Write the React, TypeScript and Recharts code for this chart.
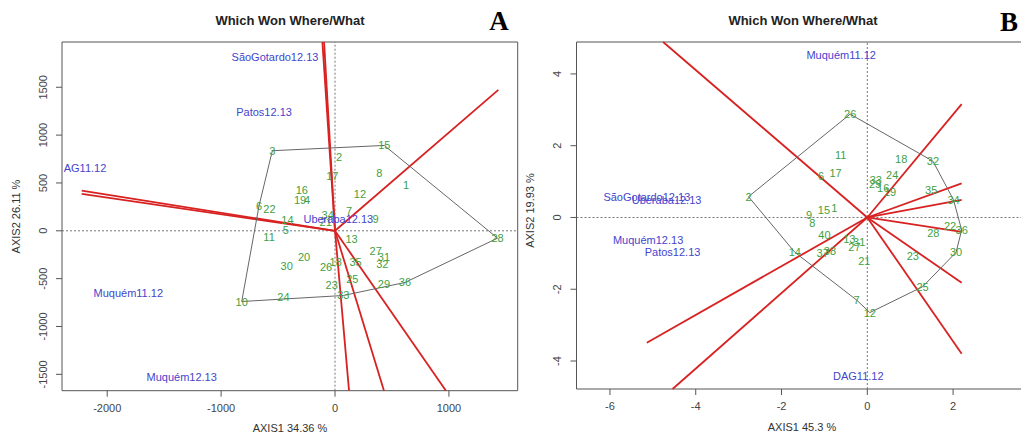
import {
  ScatterChart,
  Scatter,
  XAxis,
  YAxis,
  ReferenceLine,
  ReferenceArea,
} from "recharts";

const FONT = '"Liberation Sans", Arial, sans-serif';
const GREEN = "#3f9f3f";
const BLUE = "#4444cc";
const RED = "#d82222";
const GREY = "#666";

// ---- panel A : genotypes (green numbers)
const GENO_A = ["3", "15", "2", "8", "17", "1", "16", "19", "4", "12", "6", "22", "7", "34", "21", "9", "14", "5", "11", "13", "27", "31", "32", "20", "30", "26", "18", "35", "25", "23", "29", "36", "33", "24", "10", "28"];
const GENO_A_X = [-550, 433, 35, 389, -23, 623, -292, -307, -246, 219, -667, -576, 123, -64, -82, 357, -418, -433, -579, 146, 357, 430, 415, -272, -424, -79, 6, 181, 152, -29, 430, 614, 73, -453, -819, 1427];
const GENO_A_Y = [837, 892, 767, 600, 568, 474, 422, 317, 317, 384, 262, 233, 202, 167, 87, 122, 108, 10, -60, -84, -206, -275, -345, -279, -366, -377, -328, -328, -502, -565, -554, -540, -676, -687, -739, -77];
const HULL_A = ["3", "15", "28", "36", "33", "10", "6", "3"];

// ---- panel A : environments (blue)
const ENV_A = ["SãoGotardo12.13", "Patos12.13", "AG11.12", "Uberaba12.13", "Muquém11.12", "Muquém12.13"];
const ENV_A_X = [-527, -623, -2195, 29, -1815, -1346];
const ENV_A_Y = [1820, 1242, 653, 123, -647, -1531];

// ---- panel A : sector rays (end points, start at origin)
const RAY_A_X = [-111, -96, 1434, -2224, -2224, 123, 430, 974];
const RAY_A_Y = [1973, 1973, 1472, 419, 385, -1671, -1671, -1671];

const X_TICKS_A = [-2000, -1000, 0, 1000];
const Y_TICKS_A = [-1500, -1000, -500, 0, 500, 1000, 1500];

// ---- panel B : genotypes
const GENO_B = ["11", "18", "32", "17", "6", "24", "33", "29", "16", "19", "35", "34", "2", "15", "1", "9", "8", "22", "36", "28", "40", "13", "31", "27", "14", "37", "38", "30", "23", "21", "25", "7", "12", "26"];
const GENO_B_X = [-0.62, 0.79, 1.53, -0.74, -1.08, 0.58, 0.2, 0.18, 0.37, 0.53, 1.49, 2.01, -2.77, -1.01, -0.77, -1.36, -1.28, 1.93, 2.2, 1.54, -1.0, -0.42, -0.19, -0.3, -1.69, -1.04, -0.87, 2.07, 1.06, -0.07, 1.29, -0.25, 0.06, -0.4];
const GENO_B_Y = [1.74, 1.62, 1.57, 1.23, 1.16, 1.17, 1.05, 0.93, 0.83, 0.7, 0.77, 0.49, 0.58, 0.21, 0.26, 0.07, -0.16, -0.24, -0.35, -0.42, -0.49, -0.6, -0.67, -0.83, -0.97, -1.0, -0.93, -0.97, -1.07, -1.2, -1.93, -2.3, -2.65, 2.88];
const HULL_B = ["26", "32", "34", "36", "30", "25", "12", "7", "14", "2", "26"];

const ENV_B = ["Muquém11.12", "SãoGotardo12.13", "Uberaba12.13", "Muquém12.13", "Patos12.13", "DAG11.12"];
const ENV_B_X = [-0.61, -5.14, -4.68, -5.11, -4.54, -0.21];
const ENV_B_Y = [4.53, 0.58, 0.49, -0.63, -0.97, -4.41];

const RAY_B_X = [-4.76, 2.2, 2.2, 2.2, 2.2, 2.2, 2.2, -5.14, -4.54];
const RAY_B_Y = [4.89, 3.16, 0.95, 0.49, -0.4, -1.82, -3.8, -3.49, -4.78];

const X_TICKS_B = [-6, -4, -2, 0, 2];
const Y_TICKS_B = [-4, -2, 0, 2, 4];

type Pt = { x: number; y: number; name: string };

const toPoints = (names: string[], xs: number[], ys: number[]): Pt[] =>
  names.map((name, i) => ({ name, x: xs[i], y: ys[i] }));

const hullOf = (order: string[], pts: Pt[]) =>
  order.map((n) => pts.find((p) => p.name === n)!);

const textShape = (color: string) => (props: any) => (
  <text
    x={props.cx}
    y={props.cy}
    fill={color}
    fontSize={11}
    fontFamily={FONT}
    textAnchor="middle"
    dominantBaseline="central"
  >
    {props.payload.name}
  </text>
);

const yTick = (left: number) => (props: any) => {
  const bx = left - 15;
  return (
    <text
      x={bx}
      y={props.y}
      transform={`rotate(-90 ${bx} ${props.y})`}
      textAnchor="middle"
      fontSize={11}
      fontFamily={FONT}
      fill="#444"
    >
      {props.payload.value}
    </text>
  );
};

type PanelProps = {
  width: number;
  margin: { top: number; right: number; bottom: number; left: number };
  xDomain: [number, number];
  yDomain: [number, number];
  xTicks: number[];
  yTicks: number[];
  geno: Pt[];
  hull: Pt[];
  env: Pt[];
  rayX: number[];
  rayY: number[];
};

function Panel(p: PanelProps) {
  const plotLeft = p.margin.left + 40;
  return (
    <ScatterChart width={p.width} height={434} margin={p.margin}>
      <XAxis
        type="number"
        dataKey="x"
        domain={p.xDomain}
        ticks={p.xTicks}
        interval={0}
        allowDataOverflow
        axisLine={false}
        tickLine={{ stroke: "#555" }}
        tickSize={6}
        tickMargin={7}
        height={30}
        tick={{ fontSize: 11, fill: "#444", fontFamily: FONT }}
      />
      <YAxis
        type="number"
        dataKey="y"
        domain={p.yDomain}
        ticks={p.yTicks}
        interval={0}
        allowDataOverflow
        axisLine={false}
        tickLine={{ stroke: "#555" }}
        tickSize={6}
        width={40}
        tick={yTick(plotLeft)}
      />
      <ReferenceArea
        x1={p.xDomain[0]}
        x2={p.xDomain[1]}
        y1={p.yDomain[0]}
        y2={p.yDomain[1]}
        fill="none"
        stroke="#555"
        strokeWidth={1}
        ifOverflow="visible"
      />
      <ReferenceLine x={0} stroke="#777" strokeDasharray="2 2" />
      <ReferenceLine y={0} stroke="#777" strokeDasharray="2 2" />
      <Scatter
        data={p.hull}
        line={{ stroke: GREY, strokeWidth: 1 }}
        shape={() => <g />}
        isAnimationActive={false}
      />
      {p.rayX.map((x, i) => (
        <ReferenceLine
          key={i}
          segment={[
            { x: 0, y: 0 },
            { x, y: p.rayY[i] },
          ]}
          stroke={RED}
          strokeWidth={1.8}
          ifOverflow="visible"
        />
      ))}
      <Scatter data={p.geno} shape={textShape(GREEN)} isAnimationActive={false} />
      <Scatter data={p.env} shape={textShape(BLUE)} isAnimationActive={false} />
    </ScatterChart>
  );
}

const abs = (style: React.CSSProperties): React.CSSProperties => ({
  position: "absolute",
  whiteSpace: "nowrap",
  fontFamily: FONT,
  ...style,
});

export default function App() {
  const genoA = toPoints(GENO_A, GENO_A_X, GENO_A_Y);
  const genoB = toPoints(GENO_B, GENO_B_X, GENO_B_Y);

  return (
    <div
      style={{
        position: "fixed",
        left: 0,
        top: 0,
        width: 1021,
        height: 434,
        overflow: "hidden",
        background: "#fff",
      }}
    >
      <div style={{ position: "absolute", left: 0, top: 0 }}>
        <Panel
          width={520}
          margin={{ top: 42, right: 2.3, bottom: 13.3, left: 22 }}
          xDomain={[-2397, 1604]}
          yDomain={[-1671, 1973]}
          xTicks={X_TICKS_A}
          yTicks={Y_TICKS_A}
          geno={genoA}
          hull={hullOf(HULL_A, genoA)}
          env={toPoints(ENV_A, ENV_A_X, ENV_A_Y)}
          rayX={RAY_A_X}
          rayY={RAY_A_Y}
        />
      </div>
      <div style={{ position: "absolute", left: 520, top: 0 }}>
        <Panel
          width={520}
          margin={{ top: 42, right: 5, bottom: 15, left: 16.5 }}
          xDomain={[-6.78, 3.91]}
          yDomain={[-4.78, 4.89]}
          xTicks={X_TICKS_B}
          yTicks={Y_TICKS_B}
          geno={genoB}
          hull={hullOf(HULL_B, genoB)}
          env={toPoints(ENV_B, ENV_B_X, ENV_B_Y)}
          rayX={RAY_B_X}
          rayY={RAY_B_Y}
        />
      </div>

      {/* titles */}
      <div style={abs({ left: 140, width: 300, top: 13.6, textAlign: "center", fontSize: 13, lineHeight: "13px", fontWeight: "bold", color: "#222" })}>
        Which Won Where/What
      </div>
      <div style={abs({ left: 653, width: 300, top: 13.6, textAlign: "center", fontSize: 13, lineHeight: "13px", fontWeight: "bold", color: "#222" })}>
        Which Won Where/What
      </div>
      <div style={abs({ left: 485, width: 28, top: 8, textAlign: "center", fontSize: 27, lineHeight: "27px", fontWeight: "bold", fontFamily: '"Liberation Serif", serif', color: "#000" })}>
        A
      </div>
      <div style={abs({ left: 995, width: 28, top: 9, textAlign: "center", fontSize: 27, lineHeight: "27px", fontWeight: "bold", fontFamily: '"Liberation Serif", serif', color: "#000" })}>
        B
      </div>

      {/* axis titles */}
      <div style={abs({ left: 190, width: 200, top: 422.5, textAlign: "center", fontSize: 11, lineHeight: "11px", color: "#333" })}>
        AXIS1 34.36 %
      </div>
      <div style={abs({ left: 702, width: 200, top: 422, textAlign: "center", fontSize: 11, lineHeight: "11px", color: "#333" })}>
        AXIS1 45.3 %
      </div>
      <div style={abs({ left: 16 - 100, width: 200, top: 216 - 5.5, height: 11, textAlign: "center", fontSize: 11, lineHeight: "11px", color: "#333", transform: "rotate(-90deg)" })}>
        AXIS2 26.11 %
      </div>
      <div style={abs({ left: 530 - 100, width: 200, top: 210 - 5.5, height: 11, textAlign: "center", fontSize: 11, lineHeight: "11px", color: "#333", transform: "rotate(-90deg)" })}>
        AXIS2 19.93 %
      </div>
    </div>
  );
}
